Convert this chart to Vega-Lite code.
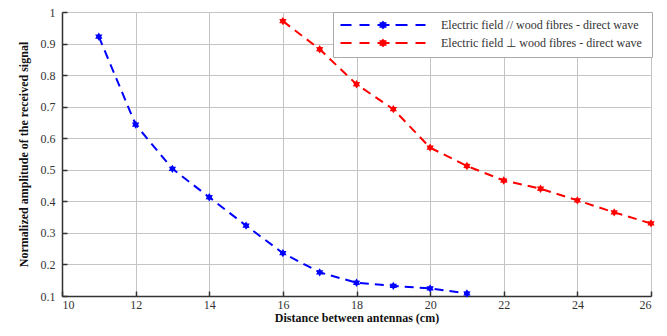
{
  "$schema": "https://vega.github.io/schema/vega-lite/v6.json",
  "autosize": {"type": "none"},
  "width": 589,
  "height": 284,
  "padding": {"left": 62, "top": 12, "right": 16, "bottom": 40},
  "background": "white",
  "config": {
    "view": {"stroke": "#888", "strokeWidth": 1},
    "axis": {
      "labelFont": "Liberation Serif",
      "labelFontSize": 12,
      "labelColor": "#333",
      "titleFont": "Liberation Serif",
      "titleFontSize": 12,
      "titleFontWeight": "bold",
      "titleColor": "#111",
      "domainColor": "#333",
      "domainWidth": 1.5,
      "tickColor": "#333",
      "tickSize": -5,
      "tickWidth": 1.5,
      "gridColor": "#c4c4c4",
      "gridWidth": 1
    }
  },
  "data": {
    "values": [
      {"x": 11, "y": 0.922, "s": "Electric field // wood  fibres - direct wave"},
      {"x": 12, "y": 0.643, "s": "Electric field // wood  fibres - direct wave"},
      {"x": 13, "y": 0.503, "s": "Electric field // wood  fibres - direct wave"},
      {"x": 14, "y": 0.413, "s": "Electric field // wood  fibres - direct wave"},
      {"x": 15, "y": 0.323, "s": "Electric field // wood  fibres - direct wave"},
      {"x": 16, "y": 0.236, "s": "Electric field // wood  fibres - direct wave"},
      {"x": 17, "y": 0.175, "s": "Electric field // wood  fibres - direct wave"},
      {"x": 18, "y": 0.142, "s": "Electric field // wood  fibres - direct wave"},
      {"x": 19, "y": 0.132, "s": "Electric field // wood  fibres - direct wave"},
      {"x": 20, "y": 0.124, "s": "Electric field // wood  fibres - direct wave"},
      {"x": 21, "y": 0.108, "s": "Electric field // wood  fibres - direct wave"},
      {"x": 16, "y": 0.971, "s": "Electric field ⊥  wood fibres - direct wave"},
      {"x": 17, "y": 0.882, "s": "Electric field ⊥  wood fibres - direct wave"},
      {"x": 18, "y": 0.771, "s": "Electric field ⊥  wood fibres - direct wave"},
      {"x": 19, "y": 0.692, "s": "Electric field ⊥  wood fibres - direct wave"},
      {"x": 20, "y": 0.570, "s": "Electric field ⊥  wood fibres - direct wave"},
      {"x": 21, "y": 0.512, "s": "Electric field ⊥  wood fibres - direct wave"},
      {"x": 22, "y": 0.466, "s": "Electric field ⊥  wood fibres - direct wave"},
      {"x": 23, "y": 0.440, "s": "Electric field ⊥  wood fibres - direct wave"},
      {"x": 24, "y": 0.403, "s": "Electric field ⊥  wood fibres - direct wave"},
      {"x": 25, "y": 0.365, "s": "Electric field ⊥  wood fibres - direct wave"},
      {"x": 26, "y": 0.330, "s": "Electric field ⊥  wood fibres - direct wave"}
    ]
  },
  "encoding": {
    "x": {
      "field": "x", "type": "quantitative",
      "scale": {"domain": [10, 26], "nice": false, "zero": false},
      "axis": {"title": "Distance between antennas (cm)", "values": [10, 12, 14, 16, 18, 20, 22, 24, 26], "labelPadding": 8, "titlePadding": 2}
    },
    "y": {
      "field": "y", "type": "quantitative",
      "scale": {"domain": [0.1, 1], "nice": false, "zero": false},
      "axis": {"title": "Normalized amplitude of the received signal", "values": [0.1, 0.2, 0.3, 0.4, 0.5, 0.6, 0.7, 0.8, 0.9, 1], "format": ".1~f", "labelPadding": 12, "titlePadding": 10}
    },
    "color": {
      "field": "s", "type": "nominal",
      "scale": {"domain": ["Electric field // wood  fibres - direct wave", "Electric field ⊥  wood fibres - direct wave"], "range": ["#0000ff", "#ff0000"]},
      "legend": {
        "title": null,
        "orient": "none",
        "legendX": 271,
        "legendY": 0,
        "fillColor": "white",
        "strokeColor": "#aaa",
        "padding": 7,
        "rowPadding": 4,
        "labelFont": "Liberation Serif",
        "labelFontSize": 12,
        "labelColor": "#333",
        "labelLimit": 400,
        "labelOffset": 52,
        "symbolOffset": 37,
        "symbolSize": 100,
        "symbolStrokeWidth": 1.8,
        "symbolType": "M-8.5,0L-6.3,0M-4.7,0L-2.7,0M-1.1,0L1.3,0M2.5,0L4.9,0M6.5,0L8.5,0M0,-0.6L0.25,-0.35L0.5,-0.35L0.4,0L0.5,0.35L0.25,0.35L0,0.6L-0.25,0.35L-0.5,0.35L-0.4,0L-0.5,-0.35L-0.25,-0.35Z",
        "encode": {
          "symbols": {
            "update": {
              "fill": {"scale": "color", "field": "value"},
              "stroke": {"scale": "color", "field": "value"},
              "strokeDash": {"value": [1, 0]},
              "opacity": {"value": 1}
            }
          }
        }
      }
    }
  },
  "layer": [
    {"mark": {"type": "line", "strokeWidth": 2, "strokeDash": [9, 6]}},
    {"mark": {"type": "point", "filled": true, "opacity": 1, "size": 70, "shape": "M0,-1L0.3,-0.52L0.87,-0.5L0.6,0L0.87,0.5L0.3,0.52L0,1L-0.3,0.52L-0.87,0.5L-0.6,0L-0.87,-0.5L-0.3,-0.52Z"}}
  ]
}
